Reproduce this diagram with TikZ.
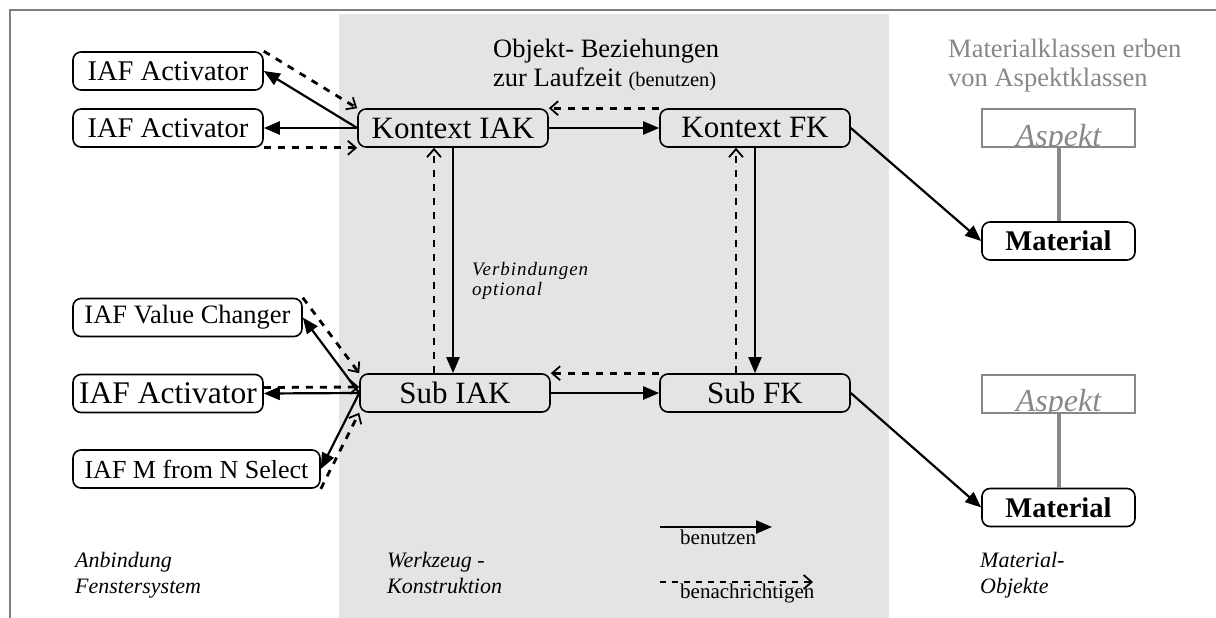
\documentclass[tikz,border=0pt]{standalone}
\usepackage{fontspec}
\setmainfont{Liberation Serif}
\usetikzlibrary{arrows.meta}
\definecolor{bandgray}{RGB}{228,228,228}
\definecolor{framegray}{RGB}{128,128,128}
\definecolor{inhgray}{RGB}{136,136,136}
\newcommand{\fsz}[1]{\fontsize{#1}{#1}\selectfont}
\begin{document}
\begin{tikzpicture}[x=1pt,y=-1pt,
  box/.style={draw, line width=1.6pt, rounded corners=8pt, inner sep=0pt, minimum height=38pt},
  aspbox/.style={draw=inhgray, line width=2pt, inner sep=0pt, minimum width=153pt, minimum height=38pt},
  asptext/.style={text=inhgray, font=\fsz{32}\itshape, inner sep=0pt},
  matbox/.style={box, minimum width=153pt, font=\fsz{28.5}\bfseries},
  use/.style={line width=2.2pt, -{Triangle[length=16pt,width=13pt]}},
  dsh/.style={line width=2.8pt, dash pattern=on 7pt off 7pt,
    -{Straight Barb[length=8pt,width=14pt,line width=1.8pt]}},
  inh/.style={draw=inhgray, line width=4pt},
  lbl/.style={inner sep=0pt, anchor=base west},
]
\useasboundingbox (0,0) rectangle (1216,618);
\fill[white] (0,0) rectangle (1216,618);
% tool construction area
\fill[bandgray] (339,14) rectangle (889,618);
% outer frame
\draw[framegray, line width=2pt] (10,618) -- (10,10) -- (1216,10);

% window system interaction forms
\node[box, minimum width=190pt, font=\fsz{28.5}] (a1) at (168,71) {IAF Activator};
\node[box, minimum width=190pt, font=\fsz{28.5}] (a2) at (168,128) {IAF Activator};
\node[box, minimum width=229pt, font=\fsz{26.5}] (vc) at (187.5,317.5) {IAF Value Changer};
\node[box, minimum width=190pt, font=\fsz{31.5}] (a3) at (168,393.5) {IAF Activator};
\node[box, minimum width=247pt, font=\fsz{26}] (mns) at (196.5,469) {IAF M from N Select};

% tool components
\node[box, minimum width=190pt, font=\fsz{31}] (kiak) at (453,128) {Kontext IAK};
\node[box, minimum width=190pt, font=\fsz{31}] (kfk) at (755,128) {Kontext FK};
\node[box, minimum width=190pt, font=\fsz{31}] (siak) at (455,393) {Sub IAK};
\node[box, minimum width=190pt, font=\fsz{31}] (sfk) at (755,393) {Sub FK};

% material objects and their aspects
\node[aspbox] (asp1) at (1058.5,128) {};
\begin{scope}
  \clip ([yshift=1pt]asp1.south west) rectangle (asp1.north east);
  \node[asptext, anchor=base] (asp1t) at ([yshift=2pt]asp1.south) {Aspekt};
\end{scope}
\node[matbox] (mat1) at (1058.5,241) {Material};
\node[aspbox] (asp2) at (1058.5,393.5) {};
\begin{scope}
  \clip ([yshift=1pt]asp2.south west) rectangle (asp2.north east);
  \node[asptext, anchor=base] (asp2t) at ([yshift=2pt]asp2.south) {Aspekt};
\end{scope}
\node[matbox] (mat2) at (1058.5,507.5) {Material};
\draw[inh] (asp1.south) -- (mat1.north);
\draw[inh] (asp2.south) -- (mat2.north);

% headings and notes
\node[lbl, font=\fsz{26.5}] (h1) at (493,58) {Objekt- Beziehungen};
\node[lbl, font=\fsz{26.5}] (h2) at (493,87) {zur Laufzeit {\fsz{20.5}(benutzen)}};
\node[lbl, font=\fsz{26.5}, text=inhgray] (m1) at (948,58) {Materialklassen erben};
\node[lbl, font=\fsz{26.5}, text=inhgray] (m2) at (948,87) {von Aspektklassen};
\node[lbl, font=\fsz{19}\itshape\addfontfeature{LetterSpace=5}] (v1) at (472,275) {Verbindungen};
\node[lbl, font=\fsz{19}\itshape\addfontfeature{LetterSpace=5}] (v2) at (472,295) {optional};

% column captions
\node[lbl, font=\fsz{22}\itshape] (c1a) at (75,567) {Anbindung};
\node[lbl, font=\fsz{22}\itshape] (c1b) at (75,593) {Fenstersystem};
\node[lbl, font=\fsz{22}\itshape] (c2a) at (387,567) {Werkzeug -};
\node[lbl, font=\fsz{22}\itshape] (c2b) at (387,593) {Konstruktion};
\node[lbl, font=\fsz{22}\itshape] (c3a) at (980,567) {Material-};
\node[lbl, font=\fsz{22}\itshape] (c3b) at (980,593) {Objekte};

% legend
\coordinate (lu1) at (660,527);
\coordinate (lu2) at (772,527);
\coordinate (ln1) at (660,582);
\coordinate (ln2) at (813,582);
\draw[use] (lu1) -- (lu2);
\draw[dsh, dash pattern=on 6pt off 6pt] (ln1) -- (ln2);
\node[lbl, font=\fsz{21}] (lt1) at (680,544) {benutzen};
\node[lbl, font=\fsz{21}] (lt2) at (680,598) {benachrichtigen};

% Kontext IAK and its forms
\draw[use] (kiak.west) -- (a1.east);
\draw[use] (kiak.west) -- (a2.east);
\draw[dsh] (a1.north east) -- (kiak.north west);
\draw[dsh] (a2.south east) -- (kiak.south west);

% Sub IAK and its forms
\draw[use] (siak.west) -- (vc.east);
\draw[use] (siak.west) -- (a3.east);
\draw[use] (siak.west) -- (mns.east);
\draw[dsh] (vc.north east) -- (siak.north west);
\draw[dsh] ([yshift=6pt]a3.east) -- ([yshift=6pt]siak.west);
\draw[dsh] (mns.south east) -- (siak.south west);

% between the tool components
\draw[use] (kiak.east) -- (kfk.west);
\draw[dsh] (kfk.north west) -- (kiak.north east);
\draw[use] (siak.east) -- (sfk.west);
\draw[dsh] (sfk.north west) -- (siak.north east);
\coordinate (kiakd) at ([xshift=-19pt]kiak.south);
\coordinate (kfkd) at ([xshift=-19pt]kfk.south);
\draw[use] (kiak.south) -- (kiak.south |- siak.north);
\draw[dsh] (kiakd |- siak.north) -- (kiakd);
\draw[use] (kfk.south) -- (kfk.south |- sfk.north);
\draw[dsh] (kfkd |- sfk.north) -- (kfkd);

% tool components use the materials
\draw[use] (kfk.east) -- (mat1.west);
\draw[use] (sfk.east) -- (mat2.west);
\end{tikzpicture}
\end{document}
